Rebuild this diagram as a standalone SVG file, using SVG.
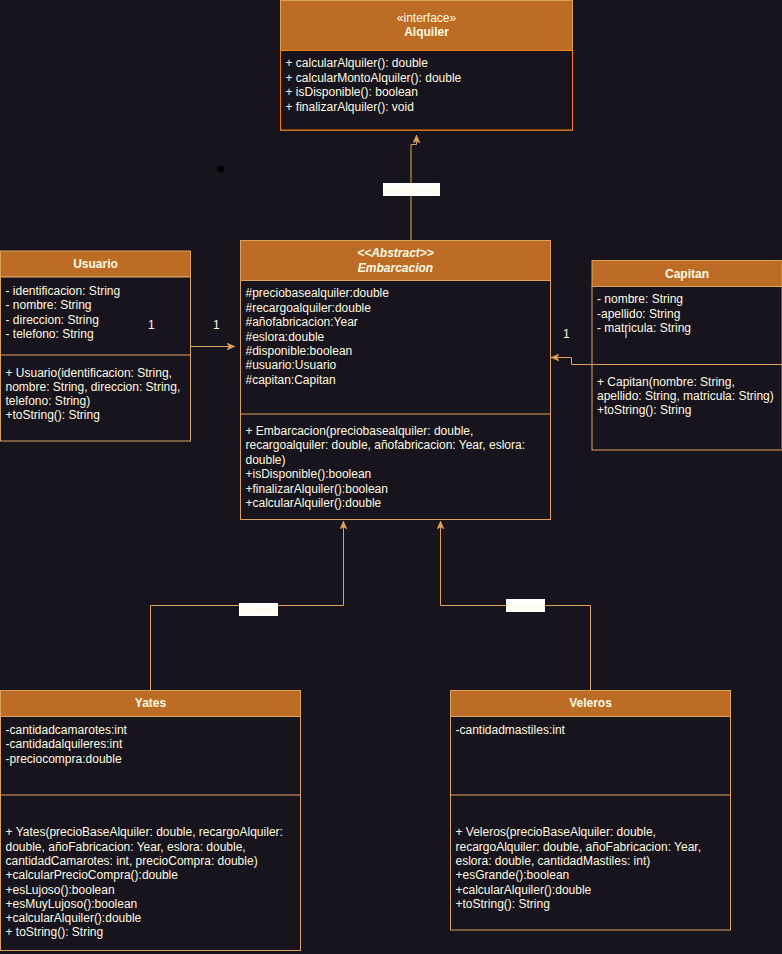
<svg xmlns="http://www.w3.org/2000/svg" width="782" height="954" viewBox="0 0 782 954">
<defs>
<style>
text{font-family:"Liberation Sans",Arial,sans-serif;font-size:12px;fill:#FEFAE0}
.t{font-weight:bold;text-anchor:middle}
.i{font-style:italic}
.hd{fill:#BC6C25;stroke:#DDA15E;stroke-width:1}
.bd{fill:#18141D;stroke:#DDA15E;stroke-width:1}
.bo{fill:#18141D;stroke:#FF8000;stroke-width:1}
.ln{stroke:#DDA15E;stroke-width:1;fill:none}
.cn{stroke:#DDA15E;stroke-width:1;fill:none;marker-end:url(#arr)}
.lb{fill:#FFFFFF}
.lt{font-size:11px;text-anchor:middle;fill:#FEFAE0}
</style>
<marker id="arr" viewBox="0 0 8 8" refX="8" refY="4" markerWidth="8" markerHeight="8" markerUnits="userSpaceOnUse" orient="auto">
<path d="M0,0.5 L8,4 L0,7.5 L2,4 Z" fill="#DDA15E" stroke="#DDA15E" stroke-width="0.5"/>
</marker>
</defs>
<rect x="0" y="0" width="782" height="954" fill="#18141D"/>

<circle cx="221" cy="169" r="3.5" fill="#000000"/>

<g id="alquiler">
<rect class="hd" x="280.5" y="0.5" width="292" height="129.5"/>
<rect class="bo" x="280.5" y="50.5" width="292" height="79.5"/>
<text class="t" x="426.5" y="21.5" style="font-weight:normal">«interface»</text>
<text class="t" x="426.5" y="36">Alquiler</text>
<text x="285.5" y="67">+ calcularAlquiler(): double</text>
<text x="285.5" y="81.5">+ calcularMontoAlquiler(): double</text>
<text x="285.5" y="96">+ isDisponible(): boolean</text>
<text x="285.5" y="110.5">+ finalizarAlquiler(): void</text>
</g>

<g id="usuario">
<rect class="hd" x="0.5" y="251" width="190" height="26"/>
<rect class="bd" x="0.5" y="277" width="190" height="164"/>
<path class="ln" d="M0.5,355 L190.5,355"/>
<text class="t" x="95.5" y="268">Usuario</text>
<text x="5.5" y="294.5">- identificacion: String</text>
<text x="5.5" y="309">- nombre: String</text>
<text x="5.5" y="323.5">- direccion: String</text>
<text x="5.5" y="338">- telefono: String</text>
<text x="5.5" y="377">+ Usuario(identificacion: String,</text>
<text x="5.5" y="391">nombre: String, direccion: String,</text>
<text x="5.5" y="405">telefono: String)</text>
<text x="5.5" y="419">+toString(): String</text>
</g>

<g id="embarcacion">
<rect class="hd" x="240.5" y="240.5" width="310" height="40"/>
<rect class="bd" x="240.5" y="280.5" width="310" height="239"/>
<path class="ln" d="M240.5,414 L550.5,414"/>
<text class="t i" x="395.5" y="257">&lt;&lt;Abstract&gt;&gt;</text>
<text class="t i" x="395.5" y="271.5">Embarcacion</text>
<text x="245.5" y="297.3">#preciobasealquiler:double</text>
<text x="245.5" y="311.7">#recargoalquiler:double</text>
<text x="245.5" y="326.1">#añofabricacion:Year</text>
<text x="245.5" y="340.5">#eslora:double</text>
<text x="245.5" y="354.9">#disponible:boolean</text>
<text x="245.5" y="369.3">#usuario:Usuario</text>
<text x="245.5" y="383.7">#capitan:Capitan</text>
<text x="245.5" y="435">+ Embarcacion(preciobasealquiler: double,</text>
<text x="245.5" y="449.4">recargoalquiler: double, añofabricacion: Year, eslora:</text>
<text x="245.5" y="463.8">double)</text>
<text x="245.5" y="478.2">+isDisponible():boolean</text>
<text x="245.5" y="492.6">+finalizarAlquiler():boolean</text>
<text x="245.5" y="507">+calcularAlquiler():double</text>
</g>

<g id="capitan">
<rect class="hd" x="592" y="260.5" width="190" height="26"/>
<rect class="bd" x="592" y="286.5" width="190" height="163.5"/>
<path class="ln" d="M592,364.5 L782,364.5"/>
<text class="t" x="687" y="277.5">Capitan</text>
<text x="597" y="303.3">- nombre: String</text>
<text x="597" y="317.7">-apellido: String</text>
<text x="597" y="332">- matricula: String</text>
<text x="597" y="385.7">+ Capitan(nombre: String,</text>
<text x="597" y="400">apellido: String, matricula: String)</text>
<text x="597" y="414.3">+toString(): String</text>
</g>

<g id="yates">
<rect class="hd" x="0.5" y="690.5" width="300" height="26"/>
<rect class="bd" x="0.5" y="716.5" width="300" height="234"/>
<path class="ln" d="M0.5,795 L300.5,795"/>
<text class="t" x="150.5" y="707">Yates</text>
<text x="5.5" y="733.5">-cantidadcamarotes:int</text>
<text x="5.5" y="748">-cantidadalquileres:int</text>
<text x="5.5" y="762.5">-preciocompra:double</text>
<text x="5.5" y="836.3">+ Yates(precioBaseAlquiler: double, recargoAlquiler:</text>
<text x="5.5" y="850.6">double, añoFabricacion: Year, eslora: double,</text>
<text x="5.5" y="864.9">cantidadCamarotes: int, precioCompra: double)</text>
<text x="5.5" y="879.2">+calcularPrecioCompra():double</text>
<text x="5.5" y="893.5">+esLujoso():boolean</text>
<text x="5.5" y="907.8">+esMuyLujoso():boolean</text>
<text x="5.5" y="922.1">+calcularAlquiler():double</text>
<text x="5.5" y="936.4">+ toString(): String</text>
</g>

<g id="veleros">
<rect class="hd" x="450.5" y="690.5" width="280" height="26"/>
<rect class="bd" x="450.5" y="716.5" width="280" height="213.5"/>
<path class="ln" d="M450.5,795 L730.5,795"/>
<text class="t" x="590.5" y="707">Veleros</text>
<text x="455.5" y="733.5">-cantidadmastiles:int</text>
<text x="455.5" y="836.3">+ Veleros(precioBaseAlquiler: double,</text>
<text x="455.5" y="850.6">recargoAlquiler: double, añoFabricacion: Year,</text>
<text x="455.5" y="864.9">eslora: double, cantidadMastiles: int)</text>
<text x="455.5" y="879.2">+esGrande():boolean</text>
<text x="455.5" y="893.5">+calcularAlquiler():double</text>
<text x="455.5" y="907.8">+toString(): String</text>
</g>

<g id="connectors">
<path class="cn" d="M411,240 L411,144.5 L416.5,144.5 L416.5,135"/>
<path class="cn" d="M190.5,346.5 L235,346.5"/>
<path class="cn" d="M592,364.5 L571.5,364.5 L571.5,357.5 L551,357.5"/>
<path class="cn" d="M150.5,690 L150.5,605.5 L343.5,605.5 L343.5,521"/>
<path class="cn" d="M590.5,690 L590.5,605.5 L440.5,605.5 L440.5,521"/>
<rect class="lb" x="383" y="183" width="57" height="13"/>
<text class="lt" x="411.5" y="193.5">implements</text>
<rect class="lb" x="239" y="603" width="39" height="13"/>
<text class="lt" x="258.5" y="613.5">extends</text>
<rect class="lb" x="506" y="599" width="39" height="13"/>
<text class="lt" x="525.5" y="609.5">extends</text>
<text x="148" y="329">1</text>
<text x="213" y="329">1</text>
<text x="563" y="338">1</text>
<path d="M626,331.5 L626,338" stroke="#FEFAE0" stroke-width="1"/>
</g>
</svg>
